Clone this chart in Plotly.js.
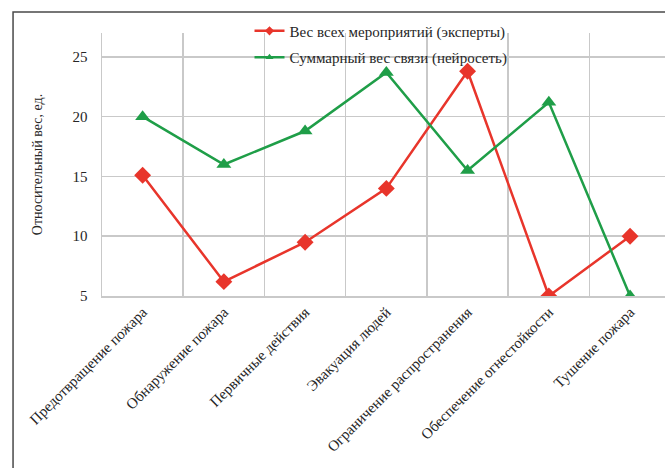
<!DOCTYPE html>
<html>
<head>
<meta charset="utf-8">
<script src="https://cdn.plot.ly/plotly-3.0.1.min.js"></script>
<style>
  html, body { margin: 0; padding: 0; background: #fff; }
  #chart { width: 665px; height: 468px; }
</style>
</head>
<body>
<div id="chart"></div>
<script>
// Fire-safety measures and their relative weights
var categories = [
  'Предотвращение пожара',
  'Обнаружение пожара',
  'Первичные действия',
  'Эвакуация людей',
  'Ограничение распространения',
  'Обеспечение огнестойкости',
  'Тушение пожара'
];
var expertWeights = [15.1, 6.2, 9.5, 14.0, 23.8, 5.0, 10.0];
var networkWeights = [20.0, 16.0, 18.8, 23.7, 15.5, 21.2, 5.0];
var yTicks = [5, 10, 15, 20, 25];

var seriesNames = ['Вес всех мероприятий (эксперты)', 'Суммарный вес связи (нейросеть)'];
var seriesColors = ['#e8352b', '#1f9e48'];
var seriesSymbols = ['diamond', 'triangle-up'];

var serif = '"Liberation Serif", "Times New Roman", Times, serif';
var textColor = '#262626';
var gridColor = '#c9c9c9';

var traces = [];
[expertWeights, networkWeights].forEach(function (vals, i) {
  traces.push({
    x: categories, y: vals,
    name: seriesNames[i],
    type: 'scatter', mode: 'lines+markers',
    showlegend: false,
    line: { color: seriesColors[i], width: 2.5 },
    marker: { symbol: seriesSymbols[i], size: 13, color: seriesColors[i] }
  });
});
// legend keys with small markers
seriesNames.forEach(function (name, i) {
  traces.push({
    x: [null], y: [null],
    name: name,
    type: 'scatter', mode: 'lines+markers',
    legendgroup: 'g' + i,
    line: { color: seriesColors[i], width: 2.5 },
    marker: { symbol: seriesSymbols[i], size: 7, color: seriesColors[i] }
  });
});

var layout = {
  width: 665, height: 468,
  margin: { l: 102, r: 0, t: 33, b: 172 },
  paper_bgcolor: '#ffffff',
  plot_bgcolor: '#ffffff',
  font: { family: serif, size: 14, color: textColor },
  showlegend: true,
  legend: {
    x: 0.262, xanchor: 'left',
    y: 1.07, yanchor: 'top',
    bgcolor: 'rgba(0,0,0,0)',
    font: { family: serif, size: 15, color: textColor },
    traceorder: 'grouped',
    tracegroupgap: 4,
    itemwidth: 30
  },
  xaxis: {
    type: 'category',
    range: [-0.5, 6.43],
    tickson: 'boundaries',
    ticks: '',
    tickangle: -45,
    showgrid: true,
    gridcolor: gridColor,
    gridwidth: 1.5,
    showline: true,
    linecolor: gridColor,
    linewidth: 1.5,
    tickfont: { family: serif, size: 15, color: textColor },
    fixedrange: true
  },
  yaxis: {
    range: [5, 27],
    tickvals: yTicks,
    ticktext: yTicks.map(String),
    ticks: '',
    ticklabelstandoff: 10,
    showgrid: true,
    gridcolor: gridColor,
    gridwidth: 1.5,
    showline: true,
    linecolor: gridColor,
    linewidth: 1.5,
    zeroline: false,
    tickfont: { family: serif, size: 15, color: textColor },
    title: {
      text: 'Относительный вес, ед.',
      font: { family: serif, size: 14, color: textColor },
      standoff: 26
    },
    fixedrange: true
  },
  shapes: [
    {
      // frame around the figure
      type: 'rect', xref: 'paper', yref: 'paper',
      x0: -0.158, x1: 1.2, y0: -1.0, y1: 1.08,
      line: { color: '#4a4a4a', width: 1.5 },
      fillcolor: 'rgba(0,0,0,0)',
      layer: 'below'
    }
  ]
};

Plotly.newPlot('chart', traces, layout, { displayModeBar: false, staticPlot: true });
</script>
</body>
</html>
